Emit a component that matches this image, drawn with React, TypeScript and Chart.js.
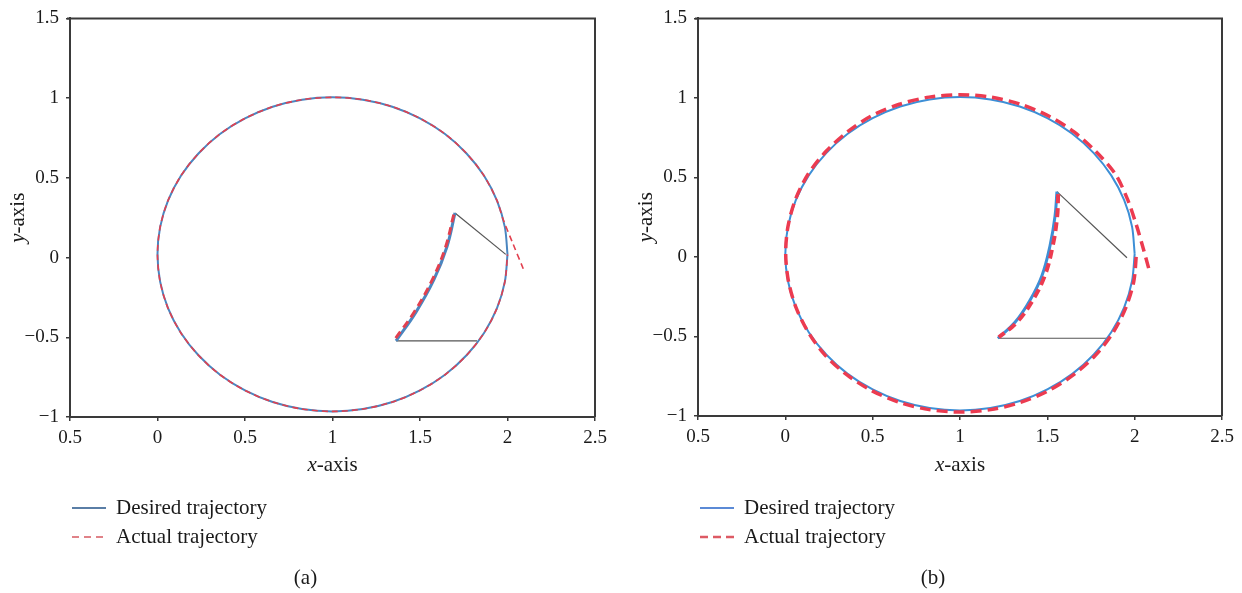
import React, { useEffect, useRef } from "react";
import { Chart, registerables } from "chart.js";

Chart.register(...registerables);

// ---- tick labels ----
const xTickLabels = ["0.5", "0", "0.5", "1", "1.5", "2", "2.5"];
const yTickLabels = ["\u22121", "\u22120.5", "0", "0.5", "1", "1.5"];

// ---- desired circular trajectory (shared by both panels) ----
const desiredX = [2.000, 1.985, 1.940, 1.866, 1.766, 1.643, 1.500, 1.342, 1.174, 1.000, 0.826, 0.658, 0.500, 0.357, 0.234, 0.134, 0.060, 0.015, 0.000, 0.015, 0.060, 0.134, 0.234, 0.357, 0.500, 0.658, 0.826, 1.000, 1.174, 1.342, 1.500, 1.643, 1.766, 1.866, 1.940, 1.985, 2.000];
const desiredY = [0.020, 0.191, 0.357, 0.513, 0.653, 0.775, 0.873, 0.946, 0.990, 1.005, 0.990, 0.946, 0.873, 0.775, 0.653, 0.513, 0.357, 0.191, 0.020, -0.151, -0.317, -0.473, -0.613, -0.735, -0.833, -0.906, -0.950, -0.965, -0.950, -0.906, -0.833, -0.735, -0.613, -0.473, -0.317, -0.151, 0.020];

// ---- panel (a) ----
const actualAX = [2.09, 2.03, 1.975, 1.940, 1.866, 1.766, 1.643, 1.500, 1.342, 1.174, 1.000, 0.826, 0.658, 0.500, 0.357, 0.234, 0.134, 0.060, 0.015, 0.000, 0.015, 0.060, 0.134, 0.234, 0.357, 0.500, 0.658, 0.826, 1.000, 1.174, 1.342, 1.500, 1.643, 1.766, 1.866, 1.940, 1.985, 2.000];
const actualAY = [-0.07, 0.09, 0.24, 0.357, 0.513, 0.653, 0.775, 0.873, 0.946, 0.990, 1.005, 0.990, 0.946, 0.873, 0.775, 0.653, 0.513, 0.357, 0.191, 0.020, -0.151, -0.317, -0.473, -0.613, -0.735, -0.833, -0.906, -0.950, -0.965, -0.950, -0.906, -0.833, -0.735, -0.613, -0.473, -0.317, -0.151, 0.020];
const armDesiredAX = [1.700, 1.654, 1.580, 1.477, 1.363];
const armDesiredAY = [0.280, 0.068, -0.137, -0.342, -0.522];
const armActualAX = [1.693, 1.645, 1.570, 1.468, 1.357];
const armActualAY = [0.270, 0.062, -0.140, -0.340, -0.512];
const linkTopAX = [1.700, 1.990];
const linkTopAY = [0.280, 0.020];
const linkBotAX = [1.363, 1.826];
const linkBotAY = [-0.522, -0.522];

// ---- panel (b) ----
const actualBX = [2.08, 2.05, 2.01, 1.96, 1.89, 1.778, 1.653, 1.508, 1.347, 1.177, 1.000, 0.823, 0.653, 0.492, 0.355, 0.232, 0.130, 0.058, 0.015, 0.002, 0.018, 0.062, 0.134, 0.230, 0.353, 0.497, 0.655, 0.824, 1.000, 1.176, 1.345, 1.505, 1.649, 1.774, 1.875, 1.949, 1.995, 2.010];
const actualBY = [-0.07, 0.05, 0.20, 0.36, 0.52, 0.663, 0.786, 0.886, 0.960, 1.005, 1.020, 1.005, 0.960, 0.886, 0.786, 0.663, 0.520, 0.362, 0.191, 0.020, -0.153, -0.320, -0.478, -0.620, -0.742, -0.842, -0.915, -0.960, -0.975, -0.960, -0.915, -0.842, -0.742, -0.620, -0.478, -0.320, -0.153, 0.020];
const armDesiredBX = [1.555, 1.544, 1.515, 1.469, 1.400, 1.315, 1.217];
const armDesiredBY = [0.411, 0.256, 0.069, -0.118, -0.274, -0.411, -0.511];
const armActualBX = [1.562, 1.556, 1.530, 1.484, 1.412, 1.322, 1.222];
const armActualBY = [0.395, 0.250, 0.065, -0.122, -0.280, -0.415, -0.505];
const linkTopBX = [1.555, 1.956];
const linkTopBY = [0.411, -0.005];
const linkBotBX = [1.217, 1.847];
const linkBotBY = [-0.511, -0.511];

const seriesNames = ["Desired trajectory", "Actual trajectory"];

const pts = (xs: number[], ys: number[]) => xs.map((x, i) => ({ x, y: ys[i] }));

const SERIF = "'Liberation Serif', 'DejaVu Serif', serif";

type PanelCfg = {
  label: string;
  yAxisWidth: number;
  rightPad: number;
  xAxisHeight: number;
  actualX: number[]; actualY: number[];
  armDX: number[]; armDY: number[];
  armAX: number[]; armAY: number[];
  linkTX: number[]; linkTY: number[];
  linkBX: number[]; linkBY: number[];
  blue: string; red: string;
  redWidth: number; redDash: number[];
  armRedWidth: number; armRedDash: number[];
  legendBlue: string; legendRed: string;
  legendRedWidth: number; legendRedDash: number[];
};

const panels: PanelCfg[] = [
  {
    label: "(a)", yAxisWidth: 70, rightPad: 26, xAxisHeight: 176,
    actualX: actualAX, actualY: actualAY,
    armDX: armDesiredAX, armDY: armDesiredAY, armAX: armActualAX, armAY: armActualAY,
    linkTX: linkTopAX, linkTY: linkTopAY, linkBX: linkBotAX, linkBY: linkBotAY,
    blue: "#4a86c0", red: "#e2404f", redWidth: 1.6, redDash: [6, 4],
    armRedWidth: 3, armRedDash: [8, 5],
    legendBlue: "#5a7ea6", legendRed: "#d65a62", legendRedWidth: 1.5, legendRedDash: [7, 5],
  },
  {
    label: "(b)", yAxisWidth: 77, rightPad: 20, xAxisHeight: 177,
    actualX: actualBX, actualY: actualBY,
    armDX: armDesiredBX, armDY: armDesiredBY, armAX: armActualBX, armAY: armActualBY,
    linkTX: linkTopBX, linkTY: linkTopBY, linkBX: linkBotBX, linkBY: linkBotBY,
    blue: "#3d8fd6", red: "#ec3b50", redWidth: 3.5, redDash: [11, 6],
    armRedWidth: 4, armRedDash: [9, 5],
    legendBlue: "#5b8ad6", legendRed: "#dd5a64", legendRedWidth: 2.5, legendRedDash: [8, 5],
  },
];

function Panel({ cfg }: { cfg: PanelCfg }) {
  const ref = useRef<HTMLCanvasElement>(null);
  useEffect(() => {
    const canvas = ref.current!;
    const deco = {
      id: "deco",
      afterDraw(chart: any) {
        const { ctx, chartArea: ca } = chart;
        ctx.save();
        // top and right frame
        ctx.strokeStyle = "#3a3a3a";
        ctx.lineWidth = 2;
        ctx.setLineDash([]);
        ctx.beginPath();
        ctx.moveTo(ca.left - 3, ca.top);
        ctx.lineTo(ca.right, ca.top);
        ctx.lineTo(ca.right, ca.bottom);
        ctx.stroke();

        ctx.fillStyle = "#1a1a1a";
        ctx.textBaseline = "middle";
        // x-axis title
        const cx = (ca.left + ca.right) / 2;
        const fN = `21px ${SERIF}`;
        const fI = `italic 21px ${SERIF}`;
        ctx.font = fI;
        const w1 = ctx.measureText("x").width;
        ctx.font = fN;
        const w2 = ctx.measureText("-axis").width;
        const sx = cx - (w1 + w2) / 2;
        ctx.textAlign = "left";
        ctx.font = fI;
        ctx.fillText("x", sx, 465);
        ctx.font = fN;
        ctx.fillText("-axis", sx + w1, 465);

        // y-axis title (rotated)
        ctx.save();
        ctx.translate(ca.left - 52, (ca.top + ca.bottom) / 2);
        ctx.rotate(-Math.PI / 2);
        ctx.font = fI;
        const v1 = ctx.measureText("y").width;
        ctx.font = fN;
        const v2 = ctx.measureText("-axis").width;
        const sy = -(v1 + v2) / 2;
        ctx.font = fI;
        ctx.fillText("y", sy, 0);
        ctx.font = fN;
        ctx.fillText("-axis", sy + v1, 0);
        ctx.restore();

        // legend
        const lx = ca.left + 2;
        const rows = [508, 537];
        ctx.lineWidth = 2;
        ctx.strokeStyle = cfg.legendBlue;
        ctx.setLineDash([]);
        ctx.beginPath();
        ctx.moveTo(lx, rows[0]);
        ctx.lineTo(lx + 34, rows[0]);
        ctx.stroke();
        ctx.strokeStyle = cfg.legendRed;
        ctx.lineWidth = cfg.legendRedWidth;
        ctx.setLineDash(cfg.legendRedDash);
        ctx.beginPath();
        ctx.moveTo(lx, rows[1]);
        ctx.lineTo(lx + 34, rows[1]);
        ctx.stroke();
        ctx.setLineDash([]);
        ctx.font = fN;
        ctx.fillText(seriesNames[0], lx + 44, rows[0]);
        ctx.fillText(seriesNames[1], lx + 44, rows[1]);

        // panel label
        ctx.textAlign = "center";
        ctx.fillText(cfg.label, cx - 27, 578);
        ctx.restore();
      },
    };

    const lineDs = (data: any[], color: string, width: number, dash: number[], order: number, tension = 0.3) => ({
      data,
      showLine: true,
      borderColor: color,
      backgroundColor: color,
      borderWidth: width,
      borderDash: dash,
      pointRadius: 0,
      tension,
      fill: false,
      order,
    });

    const chart = new Chart(canvas, {
      type: "scatter",
      data: {
        datasets: [
          lineDs(pts(cfg.armAX, cfg.armAY), cfg.red, cfg.armRedWidth, cfg.armRedDash, 0, 0.4),
          lineDs(pts(cfg.armDX, cfg.armDY), cfg.blue, 3, [], 1, 0.4),
          lineDs(pts(cfg.actualX, cfg.actualY), cfg.red, cfg.redWidth, cfg.redDash, 2),
          lineDs(pts(desiredX, desiredY), cfg.blue, 2, [], 3),
          lineDs(pts(cfg.linkTX, cfg.linkTY), "#555555", 1.2, [], 4, 0),
          lineDs(pts(cfg.linkBX, cfg.linkBY), "#555555", 1.2, [], 4, 0),
        ] as any,
      },
      options: {
        animation: false,
        responsive: false,
        devicePixelRatio: 1,
        events: [],
        layout: { padding: { left: 0, top: 15, right: cfg.rightPad, bottom: 0 } },
        plugins: { legend: { display: false }, tooltip: { enabled: false } },
        scales: {
          x: {
            type: "linear",
            min: -0.5,
            max: 2.5,
            afterFit: (s: any) => { s.height = cfg.xAxisHeight; },
            ticks: {
              stepSize: 0.5,
              autoSkip: false,
              maxRotation: 0,
              padding: 6,
              color: "#1a1a1a",
              font: { family: SERIF, size: 19 },
              callback: (_v: any, i: number) => xTickLabels[i],
            },
            grid: { drawOnChartArea: false, drawTicks: true, tickLength: 4, color: "#3a3a3a", lineWidth: 1.5 },
            border: { display: true, color: "#3a3a3a", width: 2 },
          },
          y: {
            type: "linear",
            min: -1,
            max: 1.5,
            afterFit: (s: any) => { s.width = cfg.yAxisWidth; },
            ticks: {
              stepSize: 0.5,
              autoSkip: false,
              padding: 7,
              color: "#1a1a1a",
              font: { family: SERIF, size: 19 },
              callback: (_v: any, i: number) => yTickLabels[i],
            },
            grid: { drawOnChartArea: false, drawTicks: true, tickLength: 4, color: "#3a3a3a", lineWidth: 1.5 },
            border: { display: true, color: "#3a3a3a", width: 2 },
          },
        },
      },
      plugins: [deco],
    } as any);
    return () => chart.destroy();
  }, [cfg]);
  return <canvas ref={ref} width={621} height={593} style={{ display: "block", width: 621, height: 593 }} />;
}

export default function App() {
  return (
    <div style={{ position: "fixed", left: 0, top: 0, width: 1242, height: 593, background: "#fff", display: "flex" }}>
      {panels.map((p) => (
        <Panel key={p.label} cfg={p} />
      ))}
    </div>
  );
}
